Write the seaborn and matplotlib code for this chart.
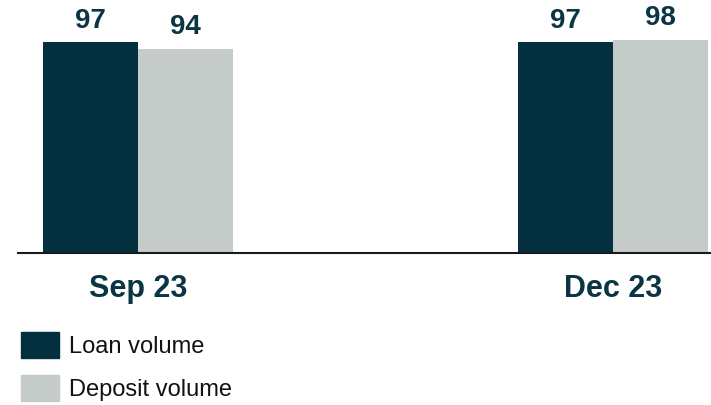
import matplotlib
matplotlib.use("Agg")
import matplotlib.pyplot as plt
import matplotlib.patches as mpatches
import pandas as pd
import seaborn as sns

# datos
periods = ["Sep 23", "Dec 23"]
loan_volume = [97, 97]
deposit_volume = [94, 98]
series_names = ["Loan volume", "Deposit volume"]

colors = {"Loan volume": "#032f3e", "Deposit volume": "#c5cbc8"}
text_color = "#0b3545"

df = pd.DataFrame({
    "period": periods * 2,
    "value": loan_volume + deposit_volume,
    "series": [series_names[0]] * len(periods) + [series_names[1]] * len(periods),
})

sns.set_style("white")
plt.rcParams["font.family"] = ["Liberation Sans", "DejaVu Sans"]

fig = plt.figure(figsize=(7.11, 4.05), dpi=100)
ax = fig.add_axes([18 / 711, 1 - 253 / 405, 693 / 711, 253 / 405])

sns.barplot(data=df, x="period", y="value", hue="series", order=periods,
            hue_order=series_names, palette=colors, width=0.4,
            saturation=1, legend=False, ax=ax, edgecolor="none", linewidth=0)

for cont in ax.containers:
    ax.bar_label(cont, fmt="%d", padding=6, fontsize=20, fontweight="bold",
                 color=text_color)

ax.set_xlim(-0.2526, 1.2063)
ax.set_ylim(0, 116.3)
ax.set_xlabel("")
ax.set_ylabel("")
ax.set_yticks([])
ax.tick_params(axis="x", length=0, pad=15)
for lbl in ax.get_xticklabels():
    lbl.set_fontsize(22)
    lbl.set_fontweight("bold")
    lbl.set_color(text_color)

for side in ["top", "right", "left"]:
    ax.spines[side].set_visible(False)
ax.spines["bottom"].set_color("#1a1a1a")
ax.spines["bottom"].set_linewidth(1.5)

handles = [mpatches.Patch(color=colors[s], label=s) for s in series_names]
leg = fig.legend(handles=handles, loc="upper left", bbox_to_anchor=(21 / 711, 1 - 332 / 405),
                 frameon=False, fontsize=17, handlelength=1.6, handleheight=1.3,
                 handletextpad=0.45, labelspacing=0.72, borderaxespad=0, borderpad=0)
for t in leg.get_texts():
    t.set_color("#111111")

fig.savefig("out.png", dpi=100)
